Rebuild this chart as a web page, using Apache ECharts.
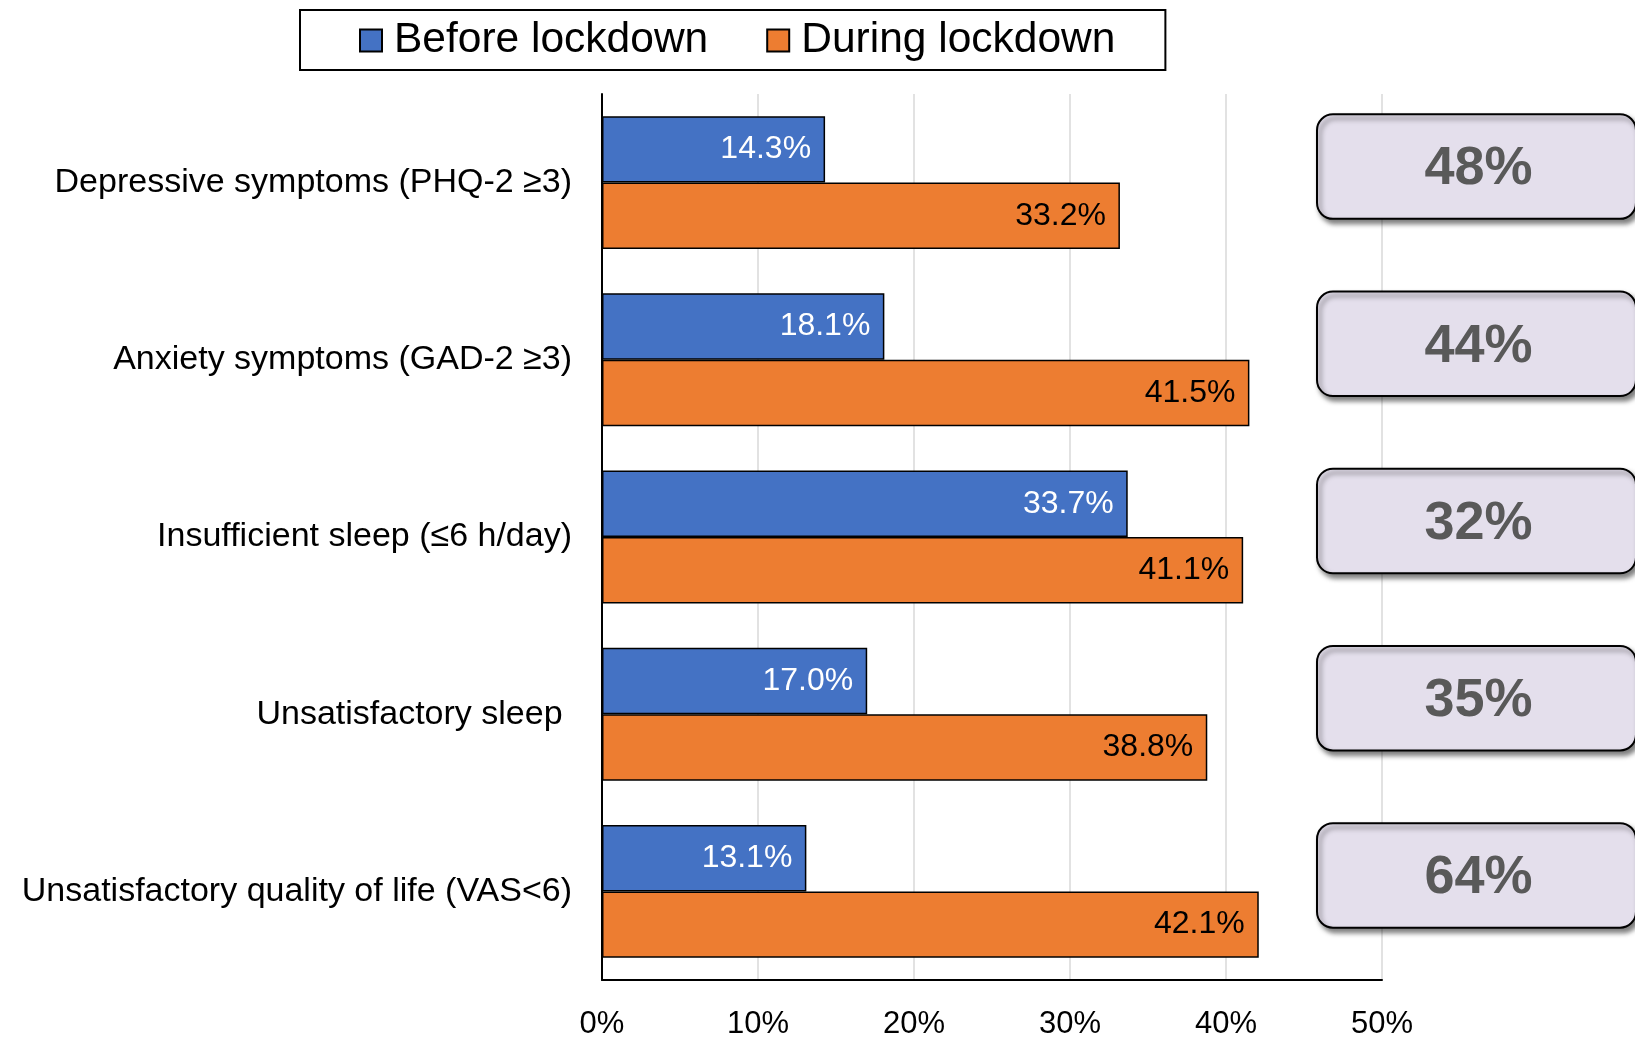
<!DOCTYPE html>
<html>
<head>
<meta charset="utf-8">
<script src="https://cdn.jsdelivr.net/npm/echarts@6/dist/echarts.min.js"></script>
<style>
html,body{margin:0;padding:0;background:#fff;}
#chart{width:1635px;height:1037px;}
</style>
</head>
<body>
<div id="chart"></div>
<script>
const categories = [
  'Depressive symptoms (PHQ-2 \u22653)',
  'Anxiety symptoms (GAD-2 \u22653)',
  'Insufficient sleep (\u22646 h/day)',
  'Unsatisfactory sleep ',
  'Unsatisfactory quality of life (VAS<6)'
];
const beforeLockdown = [14.3, 18.1, 33.7, 17.0, 13.1];
const duringLockdown = [33.2, 41.5, 41.1, 38.8, 42.1];
const changeBoxes = [48, 44, 32, 35, 64];
const xTicks = [0, 10, 20, 30, 40, 50];

const FONT = '"Liberation Sans", Arial, sans-serif';
const chart = echarts.init(document.getElementById('chart'), null, {renderer: 'canvas'});

const option = {
  backgroundColor: '#ffffff',
  animation: false,
  textStyle: {fontFamily: FONT},
  legend: {
    left: 300,
    top: 10,
    orient: 'horizontal',
    padding: [8, 50, 7, 59],
    borderColor: '#000',
    borderWidth: 2,
    itemWidth: 22,
    itemHeight: 22,
    itemGap: 58,
    icon: 'rect',
    textStyle: {fontSize: 42.5, fontFamily: FONT, color: '#000', lineHeight: 42, padding: [3, 0, 0, 7]},
    data: ['Before lockdown', 'During lockdown']
  },
  grid: [
    {left: 602, right: 253, top: 94, bottom: 57, containLabel: false, outerBoundsMode: 'none'},
    {left: 1317, right: -1, top: 94, bottom: 57, containLabel: false, outerBoundsMode: 'none'}
  ],
  xAxis: [
    {
      type: 'value', gridIndex: 0, min: xTicks[0], max: xTicks[xTicks.length - 1], interval: 10,
      axisLine: {show: true, lineStyle: {color: '#000', width: 2}},
      axisTick: {show: false},
      splitLine: {show: true, lineStyle: {color: '#d9d9d9', width: 1.5}},
      axisLabel: {formatter: v => v + '%', fontSize: 31, color: '#000', fontFamily: FONT, margin: 29}
    },
    {
      type: 'value', gridIndex: 1, min: 0, max: 1, show: false
    }
  ],
  yAxis: [
    {
      type: 'category', gridIndex: 0, inverse: true, data: categories,
      axisLine: {show: true, lineStyle: {color: '#000', width: 2}},
      axisTick: {show: false},
      axisLabel: {fontSize: 34, color: '#000', fontFamily: FONT, margin: 30, padding: [7, 0, 0, 0]}
    },
    {
      type: 'category', gridIndex: 1, inverse: true, data: categories, show: false
    }
  ],
  series: [
    {
      name: 'Before lockdown', type: 'bar', xAxisIndex: 0, yAxisIndex: 0,
      data: beforeLockdown, barGap: '0%', barCategoryGap: '25%',
      itemStyle: {color: '#4472c4', borderColor: '#000', borderWidth: 1.5},
      label: {show: true, position: 'insideRight', distance: 14, color: '#fff', fontSize: 32, fontFamily: FONT,
        formatter: p => p.value.toFixed(1) + '%'}
    },
    {
      name: 'During lockdown', type: 'bar', xAxisIndex: 0, yAxisIndex: 0,
      data: duringLockdown, barGap: '0%', barCategoryGap: '25%',
      itemStyle: {color: '#ed7d31', borderColor: '#000', borderWidth: 1.5},
      label: {show: true, position: 'insideRight', distance: 14, color: '#000', fontSize: 32, fontFamily: FONT,
        formatter: p => p.value.toFixed(1) + '%'}
    },
    {
      name: 'change', type: 'custom', xAxisIndex: 1, yAxisIndex: 1, clip: false,
      data: changeBoxes.map((v, i) => [0.5, i, v]),
      renderItem: function (params, api) {
        const c = api.coord([api.value(0), api.value(1)]);
        const band = api.size([0, 1])[1];
        const h = band * 0.59;
        const cs = params.coordSys;
        const y = c[1] - h / 2 - 16;
        return {
          type: 'group',
          children: [
            {
              type: 'rect',
              shape: {x: cs.x, y: y, width: cs.width, height: h, r: 16},
              style: {fill: '#e4dfec', stroke: '#000', lineWidth: 2,
                shadowBlur: 5, shadowOffsetX: 3, shadowOffsetY: 4, shadowColor: 'rgba(0,0,0,0.5)'}
            },
            {
              type: 'text',
              style: {text: api.value(2) + '%', x: cs.x + cs.width / 2 + 2, y: y + h / 2 + 3,
                align: 'center', verticalAlign: 'middle', fill: '#595959',
                font: 'bold 54px ' + FONT}
            }
          ]
        };
      }
    }
  ]
};
chart.setOption(option);
</script>
</body>
</html>
